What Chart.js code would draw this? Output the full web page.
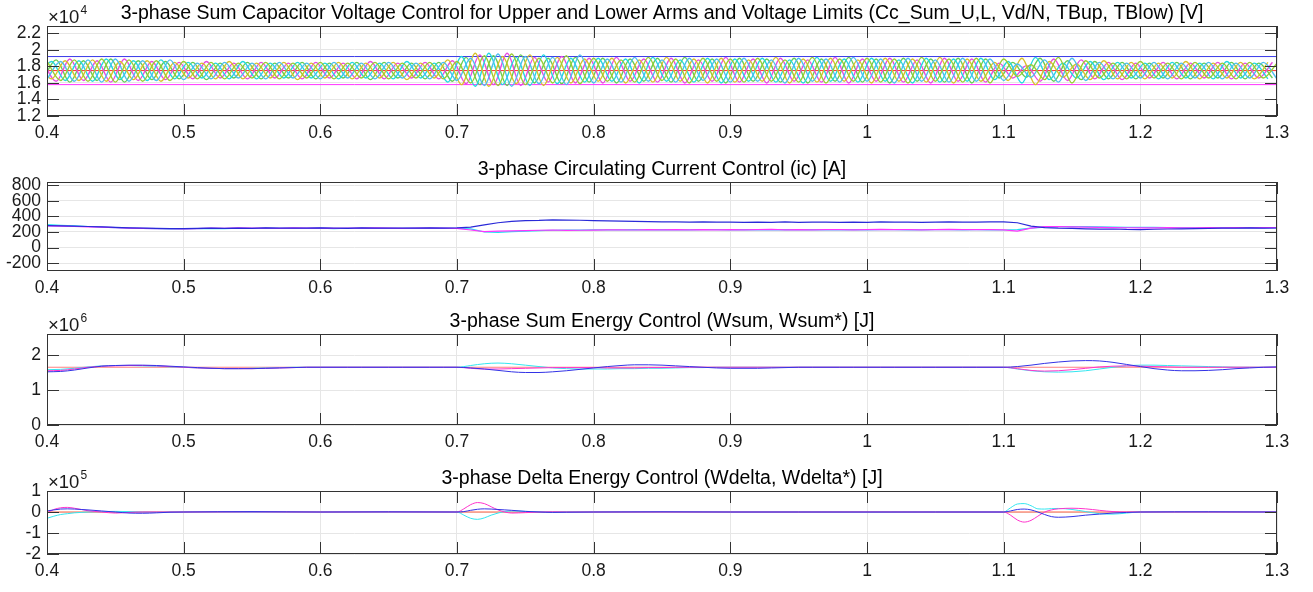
<!DOCTYPE html>
<html>
<head>
<meta charset="utf-8">
<script src="https://cdn.jsdelivr.net/npm/chart.js@4.4.0/dist/chart.umd.min.js"></script>
<style>
html, body { margin: 0; padding: 0; background: #fff; width: 1313px; height: 592px; overflow: hidden; }
canvas { position: absolute; left: 0; }
</style>
</head>
<body>
<canvas id="c1" width="1313" height="148" style="top:0px"></canvas>
<canvas id="c2" width="1313" height="155" style="top:145px"></canvas>
<canvas id="c3" width="1313" height="155" style="top:300px"></canvas>
<canvas id="c4" width="1313" height="137" style="top:455px"></canvas>
<script>
// time axis (s)
var xTicks = [0.4, 0.5, 0.6, 0.7, 0.8, 0.9, 1.0, 1.1, 1.2, 1.3];
var tStart = 0.4, tStep = 0.01;

// ---- panel 1: arm sum capacitor voltages, peaks/troughs every half period (x100 V)
var p1Ticks = [1.2, 1.4, 1.6, 1.8, 2.0, 2.2];
var phaseShift = [0, -0.00667, -0.00333];   // a, b, c
var vUa = [186,163,188,162,189,161,188,162,187,163,
           186,165,185,165,184,166,185,165,184,166,
           185,165,184,166,185,165,184,166,185,165,
           186,160,193,157,195,158,190,160,193,159,
           190,162,188,161,191,163,189,160,190,162,
           189,161,190,162,188,161,191,160,189,162,
           190,161,189,160,191,162,189,161,190,160,
           189,168,182,164,191,160,187,166,184,165,
           186,166,184,165,185,166,184,165,185,166,
           184];
var vLa = [165,186,162,188,161,189,162,187,163,188,
           164,184,165,185,166,184,165,185,166,184,
           165,185,166,184,165,185,166,184,165,185,
           163,190,157,195,156,192,159,191,158,194,
           160,189,161,191,162,188,161,190,163,189,
           161,190,162,188,160,190,162,189,161,191,
           162,189,160,190,162,188,161,190,162,189,
           163,183,167,188,161,190,163,185,165,184,
           166,185,165,184,166,185,165,184,166,185,
           165];
var vUb = [184,165,187,163,188,162,186,164,187,162,
           185,166,184,165,186,165,184,166,185,164,
           184,166,185,165,184,166,185,164,184,166,
           188,158,196,156,192,159,194,157,191,160,
           189,162,190,160,188,161,191,162,189,160,
           190,161,188,162,191,160,189,161,190,162,
           188,160,190,162,189,161,191,160,189,162,
           185,163,190,158,186,167,183,164,187,165,
           185,165,184,166,186,165,184,166,185,165,
           185];
var vLb = [166,186,163,187,162,189,164,187,163,188,
           165,185,166,184,165,186,165,184,166,185,
           166,184,165,185,166,184,165,186,166,184,
           161,192,156,196,158,191,157,194,159,190,
           161,190,162,189,160,191,162,188,161,190,
           160,189,162,190,161,188,160,191,162,189,
           161,190,162,188,160,190,161,189,162,190,
           164,186,160,191,164,184,166,186,164,185,
           166,184,165,185,166,184,165,186,166,184,
           165];
var vUc = [187,162,189,163,187,161,189,163,186,164,
           185,165,186,166,184,165,185,166,184,165,
           185,166,184,165,186,165,184,166,185,165,
           187,159,194,158,196,157,191,161,192,160,
           190,160,191,162,189,161,190,160,188,162,
           191,161,189,160,190,162,188,161,191,160,
           189,162,190,161,188,160,190,162,189,161,
           184,166,181,162,189,163,188,165,185,164,
           184,166,185,165,184,166,185,165,184,166,
           185];
var vLc = [163,188,161,187,163,189,161,187,164,186,
           165,185,164,184,166,185,165,184,166,185,
           165,184,166,185,164,185,166,184,165,185,
           162,191,158,193,157,194,160,190,159,191,
           161,190,160,189,162,190,161,191,162,189,
           160,190,162,189,161,190,160,189,162,191,
           161,189,160,190,162,189,161,190,160,189,
           166,185,167,190,162,187,164,186,165,185,
           165,184,166,185,165,184,166,185,165,184,
           166];
var vdN = 1.75, tbUp = 1.92, tbLow = 1.58;   // x1e4 V

// ---- panel 2: circulating currents (A), every 10 ms
var p2Ticks = [-200, 0, 200, 400, 600, 800];
var icA = [282,278,276,270,265,258,252,248,246,244,
           242,246,248,245,250,247,252,249,251,248,
           253,250,247,252,249,251,248,250,253,249,
           252,262,290,318,335,345,348,355,352,350,
           345,342,338,335,333,330,328,326,329,325,
           327,323,326,324,328,322,325,327,323,326,
           324,328,325,327,323,326,329,325,327,330,
           328,318,275,255,248,245,240,236,238,232,
           230,235,238,240,243,246,248,250,252,250,
           251];
var icB = [278,275,270,266,262,256,250,246,244,242,
           240,244,250,246,252,248,251,247,253,249,
           250,246,251,248,252,249,247,251,248,250,
           247,225,205,210,215,218,222,225,220,222,
           224,226,228,225,230,227,229,226,231,228,
           230,227,229,232,228,230,227,229,231,228,
           230,233,229,231,228,230,232,229,231,230,
           228,212,250,268,270,266,262,258,256,254,
           252,253,255,252,254,256,253,255,254,256,
           255];
var icC = [295,285,278,270,263,256,250,245,242,240,
           239,242,245,243,248,246,249,245,250,247,
           248,244,249,246,250,247,245,249,246,248,
           245,240,200,195,205,212,218,222,225,223,
           226,228,227,229,226,230,228,226,229,231,
           227,229,226,228,230,227,229,226,228,231,
           227,229,230,228,226,229,231,227,229,228,
           225,230,248,262,268,270,268,265,262,260,
           258,258,257,255,256,254,255,253,254,252,
           253];

// ---- panel 3: sum energy (x1e6 J), every 10 ms
var p3Ticks = [0, 1, 2];
var wsumA = [1.52,1.53,1.57,1.63,1.68,1.70,1.71,1.71,1.70,1.68,
             1.66,1.64,1.62,1.61,1.61,1.61,1.62,1.63,1.64,1.65,
             1.65,1.65,1.65,1.65,1.65,1.65,1.65,1.65,1.65,1.65,
             1.65,1.63,1.60,1.56,1.52,1.50,1.50,1.52,1.55,1.59,
             1.63,1.67,1.70,1.72,1.72,1.71,1.69,1.67,1.65,1.63,
             1.62,1.62,1.62,1.63,1.64,1.65,1.65,1.65,1.65,1.65,
             1.65,1.65,1.65,1.65,1.65,1.65,1.65,1.65,1.65,1.65,
             1.65,1.67,1.71,1.76,1.80,1.83,1.84,1.83,1.79,1.73,
             1.67,1.61,1.57,1.55,1.55,1.56,1.58,1.61,1.63,1.65,
             1.66];
var wsumB = [1.55,1.56,1.60,1.65,1.68,1.69,1.70,1.70,1.69,1.67,
             1.65,1.63,1.62,1.61,1.61,1.61,1.62,1.63,1.64,1.65,
             1.65,1.65,1.65,1.65,1.65,1.65,1.65,1.65,1.65,1.65,
             1.65,1.62,1.60,1.60,1.61,1.62,1.63,1.64,1.64,1.64,
             1.64,1.63,1.63,1.63,1.64,1.64,1.65,1.65,1.65,1.65,
             1.65,1.65,1.65,1.65,1.65,1.65,1.65,1.65,1.65,1.65,
             1.65,1.65,1.65,1.65,1.65,1.65,1.65,1.65,1.65,1.65,
             1.65,1.61,1.56,1.54,1.55,1.58,1.62,1.66,1.68,1.69,
             1.68,1.67,1.66,1.65,1.65,1.65,1.65,1.65,1.65,1.65,
             1.65];
var wsumC = [1.58,1.59,1.62,1.66,1.69,1.70,1.70,1.69,1.68,1.66,
             1.65,1.63,1.62,1.61,1.61,1.62,1.63,1.64,1.65,1.65,
             1.65,1.65,1.65,1.65,1.65,1.65,1.65,1.65,1.65,1.65,
             1.65,1.70,1.75,1.77,1.75,1.71,1.67,1.63,1.61,1.60,
             1.60,1.60,1.61,1.61,1.62,1.62,1.63,1.64,1.64,1.65,
             1.65,1.65,1.65,1.65,1.65,1.65,1.65,1.65,1.65,1.65,
             1.65,1.65,1.65,1.65,1.65,1.65,1.65,1.65,1.65,1.65,
             1.65,1.60,1.55,1.52,1.51,1.52,1.55,1.60,1.65,1.69,
             1.71,1.71,1.70,1.69,1.68,1.67,1.66,1.65,1.65,1.65,
             1.65];
var wsumRef = 1.65;

// ---- panel 4: delta energy (x1e5 J), uneven sampling
var p4Ticks = [-2, -1, 0, 1];
var tDelta = [0.40,0.405,0.41,0.415,0.42,0.425,0.43,0.44,0.45,0.46,0.47,0.48,0.49,0.50,
              0.55,0.60,0.65,0.70,
              0.705,0.71,0.715,0.72,0.725,0.73,0.735,0.74,0.75,0.76,0.77,0.78,
              0.80,0.85,0.90,0.95,1.00,1.05,1.10,
              1.105,1.11,1.115,1.12,1.125,1.13,1.135,1.14,1.15,1.16,1.17,1.18,1.19,1.20,
              1.25,1.30];
var wdA = [0.05,0.10,0.14,0.15,0.14,0.12,0.10,0.05,0.00,-0.05,-0.06,-0.04,-0.01,0.00,
           0.02,0.00,0.01,0.00,
           0.02,0.08,0.13,0.15,0.14,0.12,0.10,0.08,0.03,0.00,-0.02,-0.01,
           0.00,0.01,0.00,0.00,0.00,0.00,0.00,
           0.05,0.12,0.14,0.10,0.00,-0.12,-0.22,-0.25,-0.22,-0.15,-0.10,-0.05,-0.02,0.00,
           0.01,0.00];
var wdB = [-0.05,0.12,0.20,0.22,0.18,0.12,0.06,0.00,-0.05,-0.02,0.00,0.00,0.00,0.00,
           0.00,0.00,0.00,0.00,
           0.15,0.35,0.45,0.40,0.25,0.10,0.00,-0.05,-0.03,0.00,0.01,0.00,
           0.00,0.00,0.00,0.00,0.00,0.00,0.00,
           -0.15,-0.38,-0.48,-0.40,-0.20,0.00,0.10,0.15,0.18,0.15,0.08,0.02,0.00,0.00,
           0.00,0.00];
var wdC = [-0.30,-0.20,-0.12,-0.08,-0.04,-0.02,0.00,0.02,0.03,0.02,0.00,-0.01,0.00,0.00,
           -0.02,0.00,-0.01,0.00,
           -0.15,-0.30,-0.35,-0.28,-0.15,-0.05,0.02,0.05,0.03,0.01,0.00,0.00,
           0.00,0.00,0.00,0.00,-0.01,0.00,0.00,
           0.20,0.38,0.40,0.30,0.15,0.14,0.16,0.17,0.12,0.02,-0.08,-0.10,-0.05,0.00,
           0.00,0.00];
var wdRef = 0;

var FONT = '"Liberation Sans", Arial, sans-serif';
Chart.defaults.font.family = FONT;
Chart.defaults.font.size = 17.5;
Chart.defaults.color = '#1a1a1a';
Chart.defaults.animation = false;

function pts(vals, shift, scale) {
  return vals.map(function (v, i) { return { x: tStart + i * tStep + shift, y: v * scale }; });
}
function flat(v) {
  return [{ x: 0.4, y: v }, { x: 1.3, y: v }];
}
function line(data, color, w, smooth) {
  return { data: data, borderColor: color, borderWidth: w, pointRadius: 0,
           cubicInterpolationMode: smooth ? 'monotone' : 'default', tension: 0 };
}
function fmt(v) { return String(+v.toFixed(2)); }

// MATLAB-ish box, inward ticks, title and exponent
var matlabAxes = {
  id: 'matlabAxes',
  afterDraw: function (chart, args, o) {
    var ctx = chart.ctx, a = chart.chartArea, x = chart.scales.x, y = chart.scales.y;
    var tl = 12;
    ctx.save();
    ctx.strokeStyle = '#333';
    ctx.lineWidth = 1;
    ctx.beginPath();
    x.ticks.forEach(function (t) {
      var px = Math.round(x.getPixelForValue(t.value)) + 0.5;
      ctx.moveTo(px, a.top); ctx.lineTo(px, a.top + tl);
      ctx.moveTo(px, a.bottom); ctx.lineTo(px, a.bottom - tl);
    });
    y.ticks.forEach(function (t) {
      var py = Math.round(y.getPixelForValue(t.value)) + 0.5;
      ctx.moveTo(a.left, py); ctx.lineTo(a.left + tl, py);
      ctx.moveTo(a.right, py); ctx.lineTo(a.right - tl, py);
    });
    ctx.stroke();
    ctx.strokeRect(Math.round(a.left) + 0.5, Math.round(a.top) + 0.5,
                   Math.round(a.width) - 1, Math.round(a.height) - 1);
    ctx.fillStyle = '#000';
    ctx.font = '19.5px ' + FONT;
    ctx.textAlign = 'center';
    ctx.textBaseline = 'alphabetic';
    ctx.fillText(o.title, (a.left + a.right) / 2, a.top - 7);
    if (o.exp) {
      ctx.fillStyle = '#1a1a1a';
      ctx.textAlign = 'left';
      ctx.font = '18.5px ' + FONT;
      ctx.fillText('\u00d710', a.left + 1, a.top - 3);
      var w = ctx.measureText('\u00d710').width;
      ctx.font = '12px ' + FONT;
      ctx.fillText(o.exp, a.left + w + 2, a.top - 12);
    }
    ctx.restore();
  }
};

function makeChart(id, datasets, yMin, yMax, yTicks, padTop, xH, title, exp) {
  return new Chart(document.getElementById(id), {
    type: 'line',
    data: { datasets: datasets },
    plugins: [matlabAxes],
    options: {
      responsive: false,
      layout: { padding: { top: padTop, right: 36, left: 0, bottom: 0 } },
      plugins: { legend: { display: false }, tooltip: { enabled: false },
                 matlabAxes: { title: title, exp: exp } },
      scales: {
        x: {
          type: 'linear', min: 0.4, max: 1.3,
          afterBuildTicks: function (s) { s.ticks = xTicks.map(function (v) { return { value: v }; }); },
          afterFit: function (s) { s.height = xH; },
          grid: { color: '#e6e6e6', drawTicks: false },
          border: { display: false },
          ticks: { padding: 7, maxRotation: 0, autoSkip: false, callback: fmt }
        },
        y: {
          type: 'linear', min: yMin, max: yMax,
          afterBuildTicks: function (s) { s.ticks = yTicks.map(function (v) { return { value: v }; }); },
          afterFit: function (s) { s.width = 47; },
          grid: { color: '#e6e6e6', drawTicks: false },
          border: { display: false },
          ticks: { padding: 6, autoSkip: false, callback: fmt }
        }
      }
    }
  });
}

var s1 = 0.01;
makeChart('c1', [
  line(pts(vUa, phaseShift[0], s1), '#9acd32', 1.4, true),
  line(pts(vLa, phaseShift[0], s1), '#4dbeee', 1.4, true),
  line(pts(vUb, phaseShift[1], s1), '#d9c02a', 1.4, true),
  line(pts(vLb, phaseShift[1], s1), '#22d8e0', 1.4, true),
  line(pts(vUc, phaseShift[2], s1), '#e84ce0', 1.4, true),
  line(pts(vLc, phaseShift[2], s1), '#66cc55', 1.4, true),
  line(flat(vdN), '#ff3030', 1, false),
  line(flat(tbUp), '#3a3ae8', 1, false),
  line(flat(tbLow), '#ff33ff', 1, false)
], 1.2, 2.29, p1Ticks, 26, 32,
  '3-phase Sum Capacitor Voltage Control for Upper and Lower Arms and Voltage Limits (Cc_Sum_U,L, Vd/N, TBup, TBlow) [V]', '4');

makeChart('c2', [
  line(pts(icA, 0, 1), '#2a2ad8', 1.2, false),
  line(pts(icB, 0, 1), '#ff33ff', 1.2, false),
  line(pts(icC, 0, 1), '#22e0f0', 1.2, false)
], -300, 840, p2Ticks, 37, 29,
  '3-phase Circulating Current Control (ic) [A]', null);

makeChart('c3', [
  line(pts(wsumA, 0, 1), '#3333e6', 1, true),
  line(pts(wsumB, 0, 1), '#ff33cc', 1, true),
  line(pts(wsumC, 0, 1), '#33e6f0', 1, true),
  line(flat(wsumRef), '#ff8080', 1.2, false)
], 0, 2.6, p3Ticks, 34, 30,
  '3-phase Sum Energy Control (Wsum, Wsum*) [J]', '6');

function ptsT(vals) {
  return vals.map(function (v, i) { return { x: tDelta[i], y: v }; });
}
makeChart('c4', [
  line(ptsT(wdA), '#3333e6', 1, true),
  line(ptsT(wdB), '#ff33cc', 1, true),
  line(ptsT(wdC), '#33e6f0', 1, true),
  line(flat(wdRef), '#ff6040', 1.2, false)
], -2, 1, p4Ticks, 36, 38,
  '3-phase Delta Energy Control (Wdelta, Wdelta*) [J]', '5');
</script>
</body>
</html>
